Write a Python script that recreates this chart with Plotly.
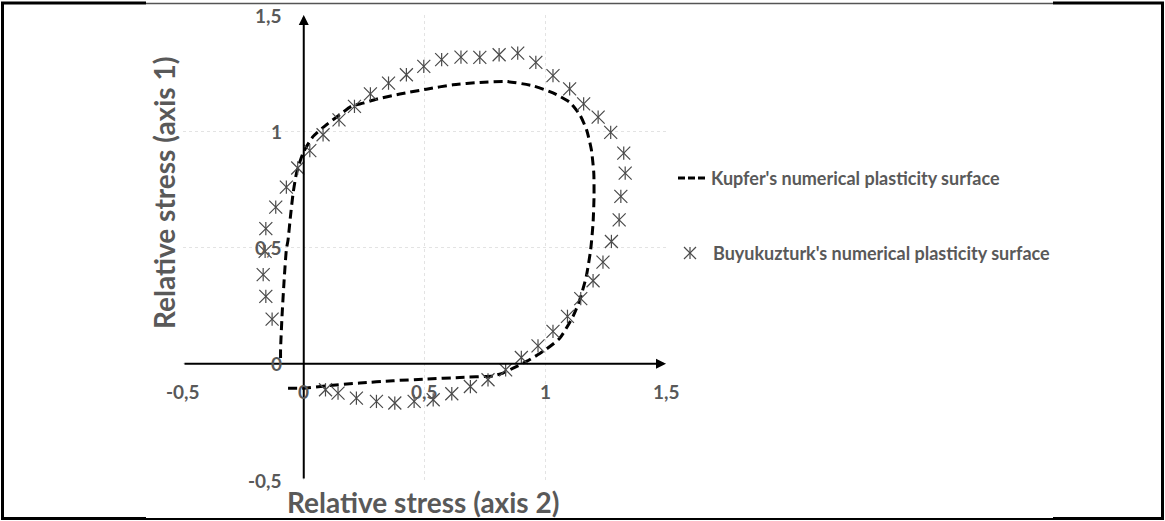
import plotly.graph_objects as go

# Buyukuzturk's numerical plasticity surface (relative stress, axis 2 vs axis 1)
buyuk_x = [-0.131, -0.157, -0.168, -0.160, -0.157, -0.116, -0.072, -0.025, 0.025, 0.080,
           0.146, 0.210, 0.276, 0.351, 0.425, 0.497, 0.571, 0.651, 0.729, 0.809,
           0.886, 0.961, 1.032, 1.101, 1.159, 1.219, 1.271, 1.325, 1.331, 1.313,
           1.306, 1.274, 1.239, 1.198, 1.147, 1.092, 1.032, 0.970, 0.901, 0.836,
           0.763, 0.690, 0.613, 0.536, 0.457, 0.377, 0.301, 0.218, 0.142, 0.090]
buyuk_y = [0.192, 0.290, 0.383, 0.483, 0.581, 0.674, 0.760, 0.842, 0.917, 0.985,
           1.049, 1.107, 1.161, 1.207, 1.243, 1.279, 1.308, 1.319, 1.318, 1.329,
           1.336, 1.296, 1.239, 1.182, 1.118, 1.061, 0.995, 0.906, 0.820, 0.720,
           0.619, 0.526, 0.437, 0.357, 0.280, 0.204, 0.139, 0.077, 0.027, -0.026,
           -0.069, -0.098, -0.129, -0.155, -0.162, -0.169, -0.162, -0.148, -0.126, -0.112]

# Kupfer's numerical plasticity surface
kupfer_x = [-0.065, 0.0, 0.094, 0.232, 0.370, 0.508, 0.646, 0.784, 0.825, 0.867,
            0.922, 0.991, 1.060, 1.115, 1.143, 1.170, 1.188, 1.198, 1.202, 1.201,
            1.191, 1.171, 1.143, 1.101, 1.032, 0.950, 0.839, 0.729, 0.618, 0.508,
            0.398, 0.301, 0.246, 0.197, 0.149, 0.094, 0.039, -0.003, -0.030, -0.044,
            -0.055, -0.065, -0.072, -0.082, -0.090, -0.096, -0.096]
kupfer_y = [-0.105, -0.105, -0.095, -0.083, -0.073, -0.066, -0.059, -0.052, -0.040, -0.019,
            0.010, 0.053, 0.110, 0.204, 0.275, 0.376, 0.490, 0.605, 0.720, 0.820,
            0.920, 1.006, 1.071, 1.125, 1.165, 1.195, 1.214, 1.210, 1.200, 1.181,
            1.160, 1.138, 1.121, 1.107, 1.071, 1.028, 0.978, 0.906, 0.820, 0.734,
            0.634, 0.533, 0.490, 0.347, 0.204, 0.060, 0.015]

tick_vals = [-0.5, 0, 0.5, 1, 1.5]
tick_text = ["-0,5", "0", "0,5", "1", "1,5"]

series_names = ["Kupfer's numerical plasticity surface",
                "Buyukuzturk's numerical plasticity surface"]

W, H = 1165, 521
FONT = "Lato"
GREY = "#595959"
MARK = "#4a4a4a"


def px(x):
    return x / W


def py(y):
    return 1 - y / H


fig = go.Figure()

fig.add_trace(go.Scatter(
    x=kupfer_x, y=kupfer_y, mode="lines",
    line=dict(color="black", width=3, dash="9px,5px", shape="spline", smoothing=0.6),
    showlegend=False, hoverinfo="skip"))

# six-armed star marker: an x plus a vertical stroke
fig.add_trace(go.Scatter(
    x=buyuk_x, y=buyuk_y, mode="markers",
    marker=dict(symbol="x-thin-open", size=13, color=MARK,
                line=dict(color=MARK, width=1.2)),
    showlegend=False, hoverinfo="skip"))
fig.add_trace(go.Scatter(
    x=buyuk_x, y=buyuk_y, mode="markers",
    marker=dict(symbol="line-ns-open", size=9.5, color=MARK,
                line=dict(color=MARK, width=1.2)),
    showlegend=False, hoverinfo="skip"))

annotations = []
# axis lines with arrow heads
annotations.append(dict(x=1.5, y=0, ax=-0.5, ay=0, xref="x", yref="y", axref="x", ayref="y",
                        showarrow=True, arrowhead=2, arrowsize=1, arrowwidth=2,
                        arrowcolor="black", text=""))
annotations.append(dict(x=0, y=1.5, ax=0, ay=-0.5, xref="x", yref="y", axref="x", ayref="y",
                        showarrow=True, arrowhead=2, arrowsize=1, arrowwidth=2,
                        arrowcolor="black", text=""))

tick_font = dict(family=FONT, size=19, color=GREY, weight="bold")
for v, t in zip(tick_vals, tick_text):
    annotations.append(dict(x=v, y=0, xref="x", yref="y", text=t, showarrow=False,
                            xanchor="center", yanchor="middle", yshift=-28, font=tick_font))
    annotations.append(dict(x=0, y=v, xref="x", yref="y", text=t, showarrow=False,
                            xanchor="right", yanchor="middle", xshift=-20, font=tick_font))

title_font = dict(family=FONT, size=28, color=GREY, weight="bold")
annotations.append(dict(x=px(423), y=py(502), xref="paper", yref="paper",
                        text="Relative stress (axis 2)", showarrow=False,
                        xanchor="center", yanchor="middle", font=title_font))
annotations.append(dict(x=px(164), y=py(193), xref="paper", yref="paper",
                        text="Relative stress (axis 1)", showarrow=False, textangle=-90,
                        xanchor="center", yanchor="middle", font=title_font))

legend_font = dict(family=FONT, size=18, color=GREY, weight="bold")
annotations.append(dict(x=px(709), y=py(178), xref="paper", yref="paper",
                        text=series_names[0], showarrow=False,
                        xanchor="left", yanchor="middle", font=legend_font))
annotations.append(dict(x=px(711), y=py(253), xref="paper", yref="paper",
                        text=series_names[1], showarrow=False,
                        xanchor="left", yanchor="middle", font=legend_font))

shapes = []
# legend sample: dashed line
shapes.append(dict(type="line", xref="paper", yref="paper",
                   x0=px(678), x1=px(708), y0=py(178), y1=py(178),
                   line=dict(color="black", width=3, dash="7px,3px")))
# legend sample: star symbol
cx, cy, r = 690, 253, 6
for dx0, dy0, dx1, dy1 in [(-r, -r, r, r), (-r, r, r, -r), (0, -r, 0, r)]:
    shapes.append(dict(type="line", xref="paper", yref="paper",
                       x0=px(cx + dx0), y0=py(cy + dy0), x1=px(cx + dx1), y1=py(cy + dy1),
                       line=dict(color=MARK, width=1.2)))


# outer frame
def seg(x0, y0, x1, y1, color, width):
    shapes.append(dict(type="line", xref="paper", yref="paper",
                       x0=px(x0), y0=py(y0), x1=px(x1), y1=py(y1),
                       line=dict(color=color, width=width)))


seg(2.5, 2, 2.5, 519, "black", 3)
seg(1162.5, 2, 1162.5, 519, "black", 3)
seg(1, 3, 146, 3, "black", 3)
seg(146, 3.5, 1053, 3.5, "#555555", 1.5)
seg(1053, 3, 1164, 3, "black", 3)
seg(1, 518.5, 146, 518.5, "black", 3)
seg(146, 519, 1053, 519, "black", 2)
seg(1053, 518.5, 1164, 518.5, "black", 3)

axis_common = dict(range=[-0.5, 1.5], dtick=0.5, tick0=0, showgrid=True,
                   gridcolor="#e3e3e3", gridwidth=1, griddash="dot",
                   zeroline=False, showticklabels=False, showline=False, ticks="",
                   fixedrange=True)

fig.update_layout(
    width=W, height=H, autosize=False,
    margin=dict(l=0, r=0, t=0, b=0, pad=0),
    paper_bgcolor="white", plot_bgcolor="white",
    xaxis=dict(domain=[px(183), px(666)], **axis_common),
    yaxis=dict(domain=[py(480), py(15)], **axis_common),
    annotations=annotations, shapes=shapes,
    showlegend=False,
)

fig.write_html("out.html")
